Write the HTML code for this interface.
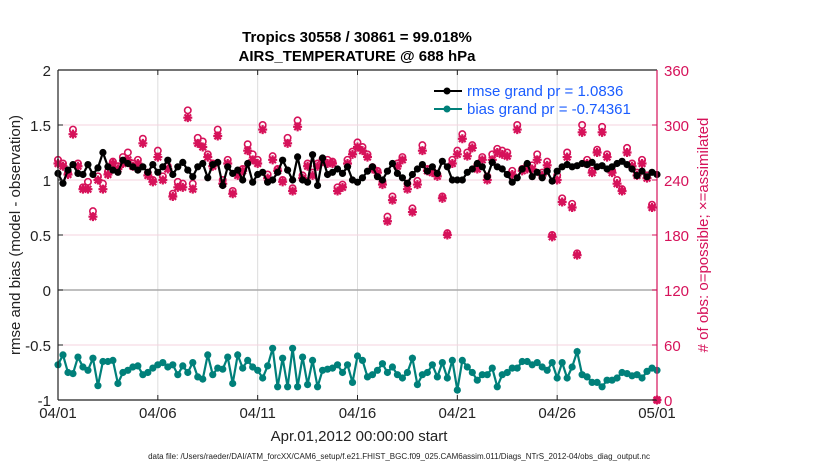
<!DOCTYPE html>
<html><head><meta charset="utf-8"><style>
body{margin:0;background:#fff;}
svg{display:block;font-family:"Liberation Sans",Arial,sans-serif;}
</style></head><body>
<svg id="chart" width="830" height="470" viewBox="0 0 830 470">
<text x="357" y="42" text-anchor="middle" font-size="15" font-weight="bold">Tropics 30558 / 30861 = 99.018%</text>
<text x="357" y="61" text-anchor="middle" font-size="15" font-weight="bold">AIRS_TEMPERATURE @ 688 hPa</text>
<g id="grid"></g>
<g id="marks"></g>
<g id="axes"></g>
<g>
<line x1="434" y1="91" x2="462" y2="91" stroke="#000" stroke-width="2"/>
<circle cx="447" cy="91" r="3.5" fill="#000"/>
<text x="467" y="96" font-size="15" fill="#1a5cff">rmse grand pr = 1.0836</text>
<line x1="434" y1="109" x2="462" y2="109" stroke="#00807a" stroke-width="2"/>
<circle cx="447" cy="109" r="3.5" fill="#00807a"/>
<text x="467" y="114" font-size="15" fill="#1a5cff">bias grand pr = -0.74361</text>
</g>
<text x="359" y="441" text-anchor="middle" font-size="15" fill="#222">Apr.01,2012 00:00:00 start</text>
<text x="399" y="459" text-anchor="middle" font-size="8" fill="#222">data file: /Users/raeder/DAI/ATM_forcXX/CAM6_setup/f.e21.FHIST_BGC.f09_025.CAM6assim.011/Diags_NTrS_2012-04/obs_diag_output.nc</text>
<text transform="translate(20,235) rotate(-90)" text-anchor="middle" font-size="15" fill="#222">rmse and bias (model - observation)</text>
<text transform="translate(708,235) rotate(-90)" text-anchor="middle" font-size="15" fill="#d6125a"># of obs: o=possible; ×=assimilated</text>
</svg>
<script>
const xTickLabels=["04/01","04/06","04/11","04/16","04/21","04/26","05/01"];
const xTickDays=[0,5,10,15,20,25,30];
const leftTicks=[2,1.5,1,0.5,0,-0.5,-1];
const rightTicks=[360,300,240,180,120,60,0];
const rmse=[1.06,0.97,1.09,1.14,1.06,1.05,1.14,1.05,1.11,1.25,1.12,1.09,1.07,1.18,1.15,1.12,1.09,1.12,1.07,1.14,1.07,1.12,1.18,1.05,1.12,1.16,1.09,1.03,1.12,1.15,1.02,1.14,1.16,0.95,1.12,1.06,1.09,1.00,1.15,0.98,1.05,1.07,0.98,1.00,1.07,1.18,1.09,1.00,1.21,1.00,0.98,1.23,0.95,1.20,1.05,1.07,1.10,1.06,1.12,1.00,0.98,1.02,1.08,1.12,1.03,1.00,1.08,1.15,1.06,1.02,0.97,1.05,1.10,1.14,1.08,1.12,1.06,1.17,1.12,1.00,1.00,1.00,1.07,1.10,1.15,1.12,1.03,1.16,1.12,1.10,1.05,0.98,1.02,1.10,1.15,1.03,1.07,1.02,1.08,0.99,1.08,1.12,1.14,1.12,1.13,1.15,1.14,1.16,1.12,1.13,1.10,1.12,1.15,1.17,1.14,1.10,1.04,1.08,1.03,1.07,1.05];
const bias=[-0.68,-0.59,-0.75,-0.76,-0.61,-0.70,-0.73,-0.62,-0.87,-0.65,-0.65,-0.64,-0.85,-0.75,-0.73,-0.70,-0.69,-0.77,-0.75,-0.71,-0.68,-0.66,-0.70,-0.68,-0.77,-0.69,-0.75,-0.66,-0.79,-0.81,-0.59,-0.77,-0.71,-0.72,-0.61,-0.85,-0.59,-0.71,-0.64,-0.70,-0.73,-0.80,-0.69,-0.53,-0.88,-0.62,-0.88,-0.53,-0.88,-0.61,-0.86,-0.64,-0.88,-0.73,-0.72,-0.71,-0.68,-0.75,-0.68,-0.84,-0.60,-0.64,-0.79,-0.77,-0.73,-0.67,-0.75,-0.70,-0.77,-0.80,-0.75,-0.62,-0.86,-0.77,-0.75,-0.68,-0.79,-0.66,-0.80,-0.64,-0.91,-0.64,-0.70,-0.75,-0.82,-0.77,-0.77,-0.71,-0.88,-0.77,-0.75,-0.71,-0.71,-0.65,-0.65,-0.68,-0.66,-0.70,-0.73,-0.66,-0.80,-0.66,-0.80,-0.70,-0.56,-0.77,-0.79,-0.84,-0.84,-0.88,-0.82,-0.82,-0.80,-0.75,-0.76,-0.78,-0.77,-0.80,-0.74,-0.71,-0.73];
const possible=[262,258,248,295,258,232,238,206,244,236,249,260,255,265,270,258,262,285,248,240,272,244,255,225,238,236,316,236,286,282,268,258,295,240,262,228,248,252,279,268,262,300,246,266,252,240,286,231,305,245,258,248,258,263,262,260,232,235,262,271,281,276,268,254,250,238,200,222,258,265,236,209,239,278,252,250,246,222,182,262,272,290,270,278,256,265,244,268,274,272,270,250,300,252,256,256,268,248,260,180,245,220,270,214,160,300,262,250,273,298,268,250,240,230,275,258,248,262,245,213,0];
const assimilated=[258,255,246,290,255,230,230,200,240,230,246,258,252,258,262,255,258,280,245,238,265,240,252,222,232,232,308,230,280,276,265,255,288,236,258,225,245,250,272,262,258,295,242,262,250,238,280,228,298,242,255,245,255,260,258,258,228,232,258,268,276,272,265,252,248,235,195,218,255,262,230,205,235,272,250,248,244,220,180,258,268,285,266,275,252,262,240,262,270,268,266,246,295,250,252,252,262,245,256,178,240,216,265,210,158,292,258,248,270,292,265,248,236,228,270,255,245,258,242,210,0];

const NS="http://www.w3.org/2000/svg";
const X0=58,X1=657,YT=70,YB=400;
const xs=d=>X0+(X1-X0)*d/30;
const yl=v=>YB-(v+1)*(YB-YT)/3;
const yr=c=>YB-c*(YB-YT)/360;
const dayOf=(i,n)=>i*30/(n-1);
function mk(tag,attrs,parent){const e=document.createElementNS(NS,tag);for(const k in attrs)e.setAttribute(k,attrs[k]);parent.appendChild(e);return e;}
const grid=document.getElementById('grid'),marks=document.getElementById('marks'),axes=document.getElementById('axes');

xTickDays.forEach((d,i)=>{
  if(d>0&&d<30){const g=mk('line',{x1:xs(d),x2:xs(d),y1:YT,y2:YB,stroke:'#dcdcdc','stroke-width':1},grid);
  
  }
  const t=mk('text',{x:xs(d),y:418,'text-anchor':'middle','font-size':15,fill:'#222'},axes);t.textContent=xTickLabels[i];
  
  
  const tk=mk('line',{x1:xs(d),x2:xs(d),y1:YB,y2:YB-5,stroke:'#222'},axes);
  
  
  const tk2=mk('line',{x1:xs(d),x2:xs(d),y1:YT,y2:YT+5,stroke:'#222'},axes);
  
  
});
rightTicks.forEach(c=>{
  if(c>0&&c<360&&c!==120){const g=mk('line',{x1:X0,x2:X1,y1:yr(c),y2:yr(c),stroke:'#f5d3df','stroke-width':1},grid);
  
  }
  const t=mk('text',{x:X1+7,y:yr(c)+6,'font-size':15,fill:'#d6125a'},axes);t.textContent=c;
  
  
  const tk=mk('line',{x1:X1,x2:X1-5,y1:yr(c),y2:yr(c),stroke:'#d6125a'},axes);
  
  
});
const z=mk('line',{x1:X0,x2:X1,y1:yl(0),y2:yl(0),stroke:'#aaa','stroke-width':1.5},grid);


leftTicks.forEach(v=>{
  const t=mk('text',{x:51,y:yl(v)+6,'text-anchor':'end','font-size':15,fill:'#222'},axes);t.textContent=v;
  
  
  const tk=mk('line',{x1:X0,x2:X0+5,y1:yl(v),y2:yl(v),stroke:'#222'},axes);
  
  
});
const a1=mk('line',{x1:X0,x2:X0,y1:YT,y2:YB,stroke:'#222','stroke-width':1.2},axes);


const a2=mk('line',{x1:X0,x2:X1,y1:YB,y2:YB,stroke:'#222','stroke-width':1.2},axes);


const a3=mk('line',{x1:X0,x2:X1,y1:YT,y2:YT,stroke:'#222','stroke-width':1.2},axes);


const a4=mk('line',{x1:X1,x2:X1,y1:YT,y2:YB,stroke:'#d6125a','stroke-width':1.2},axes);



possible.forEach((c,i)=>{
  const e=mk('circle',{cx:xs(dayOf(i,possible.length)),cy:yr(c),r:3.2,fill:'none',stroke:'#d6125a','stroke-width':1.6},marks);
  
  
});
assimilated.forEach((c,i)=>{
  const x=xs(dayOf(i,assimilated.length)),y=yr(c);
  const p=`M${x-4.5},${y}H${x+4.5}M${x},${y-4.5}V${y+4.5}M${x-3.3},${y-3.3}L${x+3.3},${y+3.3}M${x-3.3},${y+3.3}L${x+3.3},${y-3.3}`;
  const e=mk('path',{d:p,stroke:'#d6125a','stroke-width':2.2,fill:'none'},marks);
  
  
});
function series(arr,color,name){
  const pts=arr.map((v,i)=>[xs(dayOf(i,arr.length)),yl(v)]);
  const pl=mk('polyline',{points:pts.map(p=>p.join(',')).join(' '),fill:'none',stroke:color,'stroke-width':2.2},marks);
  
  
  pts.forEach(p=>{const c=mk('circle',{cx:p[0],cy:p[1],r:3.6,fill:color},marks);
    
    });
}
series(rmse,'#000','rmse');
series(bias,'#00807a','bias');
</script>
</body></html>
